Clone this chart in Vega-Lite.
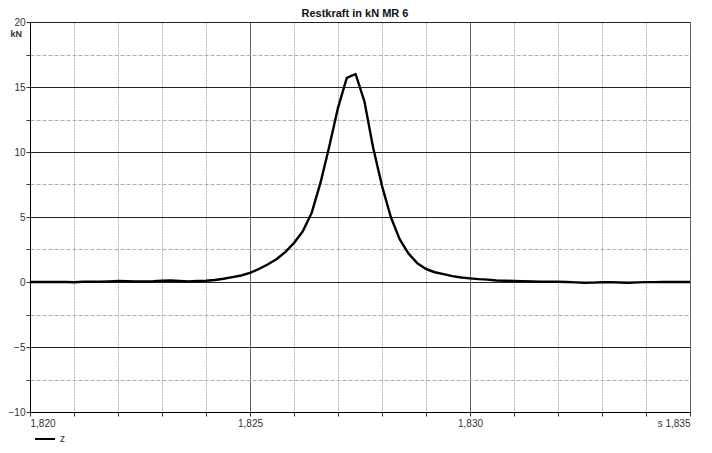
{
  "$schema": "https://vega.github.io/schema/vega-lite/v6.json",
  "width": 660,
  "height": 390,
  "autosize": {"type": "none"},
  "padding": {"left": 30, "top": 22, "right": 22, "bottom": 41},
  "background": "white",
  "title": {"text": "Restkraft in kN MR 6", "fontSize": 11, "fontWeight": "bold", "font": "Liberation Sans", "color": "#111", "offset": 4, "anchor": "middle", "dx": -5, "dy": 6},
  "config": {"view": {"stroke": null}},
  "data": {"values": [
    {"s": 1.8200, "z": 0.00, "series": "z"},
    {"s": 1.8202, "z": 0.00, "series": "z"},
    {"s": 1.8204, "z": 0.00, "series": "z"},
    {"s": 1.8206, "z": 0.00, "series": "z"},
    {"s": 1.8208, "z": 0.00, "series": "z"},
    {"s": 1.8210, "z": -0.02, "series": "z"},
    {"s": 1.8212, "z": 0.02, "series": "z"},
    {"s": 1.8214, "z": 0.03, "series": "z"},
    {"s": 1.8216, "z": 0.03, "series": "z"},
    {"s": 1.8218, "z": 0.05, "series": "z"},
    {"s": 1.8220, "z": 0.08, "series": "z"},
    {"s": 1.8222, "z": 0.07, "series": "z"},
    {"s": 1.8224, "z": 0.05, "series": "z"},
    {"s": 1.8226, "z": 0.04, "series": "z"},
    {"s": 1.8228, "z": 0.06, "series": "z"},
    {"s": 1.8230, "z": 0.10, "series": "z"},
    {"s": 1.8232, "z": 0.12, "series": "z"},
    {"s": 1.8234, "z": 0.08, "series": "z"},
    {"s": 1.8236, "z": 0.05, "series": "z"},
    {"s": 1.8238, "z": 0.08, "series": "z"},
    {"s": 1.8240, "z": 0.10, "series": "z"},
    {"s": 1.8242, "z": 0.15, "series": "z"},
    {"s": 1.8244, "z": 0.25, "series": "z"},
    {"s": 1.8246, "z": 0.38, "series": "z"},
    {"s": 1.8248, "z": 0.50, "series": "z"},
    {"s": 1.8250, "z": 0.70, "series": "z"},
    {"s": 1.8252, "z": 1.00, "series": "z"},
    {"s": 1.8254, "z": 1.35, "series": "z"},
    {"s": 1.8256, "z": 1.75, "series": "z"},
    {"s": 1.8258, "z": 2.30, "series": "z"},
    {"s": 1.8260, "z": 3.00, "series": "z"},
    {"s": 1.8262, "z": 3.90, "series": "z"},
    {"s": 1.8264, "z": 5.30, "series": "z"},
    {"s": 1.8266, "z": 7.60, "series": "z"},
    {"s": 1.8268, "z": 10.40, "series": "z"},
    {"s": 1.8270, "z": 13.40, "series": "z"},
    {"s": 1.8272, "z": 15.70, "series": "z"},
    {"s": 1.8274, "z": 16.00, "series": "z"},
    {"s": 1.8276, "z": 13.90, "series": "z"},
    {"s": 1.8278, "z": 10.30, "series": "z"},
    {"s": 1.8280, "z": 7.40, "series": "z"},
    {"s": 1.8282, "z": 5.00, "series": "z"},
    {"s": 1.8284, "z": 3.30, "series": "z"},
    {"s": 1.8286, "z": 2.20, "series": "z"},
    {"s": 1.8288, "z": 1.45, "series": "z"},
    {"s": 1.8290, "z": 1.00, "series": "z"},
    {"s": 1.8292, "z": 0.75, "series": "z"},
    {"s": 1.8294, "z": 0.60, "series": "z"},
    {"s": 1.8296, "z": 0.45, "series": "z"},
    {"s": 1.8298, "z": 0.35, "series": "z"},
    {"s": 1.8300, "z": 0.28, "series": "z"},
    {"s": 1.8302, "z": 0.22, "series": "z"},
    {"s": 1.8304, "z": 0.18, "series": "z"},
    {"s": 1.8306, "z": 0.12, "series": "z"},
    {"s": 1.8308, "z": 0.10, "series": "z"},
    {"s": 1.8310, "z": 0.08, "series": "z"},
    {"s": 1.8312, "z": 0.06, "series": "z"},
    {"s": 1.8314, "z": 0.05, "series": "z"},
    {"s": 1.8316, "z": 0.03, "series": "z"},
    {"s": 1.8318, "z": 0.02, "series": "z"},
    {"s": 1.8320, "z": 0.02, "series": "z"},
    {"s": 1.8322, "z": 0.00, "series": "z"},
    {"s": 1.8324, "z": -0.03, "series": "z"},
    {"s": 1.8326, "z": -0.06, "series": "z"},
    {"s": 1.8328, "z": -0.05, "series": "z"},
    {"s": 1.8330, "z": -0.02, "series": "z"},
    {"s": 1.8332, "z": -0.01, "series": "z"},
    {"s": 1.8334, "z": -0.04, "series": "z"},
    {"s": 1.8336, "z": -0.06, "series": "z"},
    {"s": 1.8338, "z": -0.03, "series": "z"},
    {"s": 1.8340, "z": -0.01, "series": "z"},
    {"s": 1.8342, "z": -0.01, "series": "z"},
    {"s": 1.8344, "z": 0.00, "series": "z"},
    {"s": 1.8346, "z": 0.00, "series": "z"},
    {"s": 1.8348, "z": 0.00, "series": "z"},
    {"s": 1.8350, "z": 0.00, "series": "z"}
  ]},
  "mark": {"type": "line", "strokeWidth": 2.4, "strokeJoin": "round", "clip": true},
  "encoding": {
    "x": {
      "field": "s", "type": "quantitative",
      "scale": {"domain": [1.820, 1.835], "nice": false, "zero": false},
      "axis": {
        "title": null,
        "values": [1.820, 1.821, 1.822, 1.823, 1.824, 1.825, 1.826, 1.827, 1.828, 1.829, 1.830, 1.831, 1.832, 1.833, 1.834, 1.835],
        "labelExpr": "abs(datum.value - 1.835) < 0.0001 ? 's 1,835' : (abs(datum.value*200 - round(datum.value*200)) < 0.001 ? replace(format(datum.value, '.3f'), '.', ',') : '')",
        "labelFlush": true,
        "labelFont": "Liberation Sans",
        "labelFontSize": 10,
        "labelColor": "#333",
        "labelPadding": 2,
        "domainColor": "#000",
        "domainWidth": 1,
        "tickColor": "#333",
        "tickSize": 4,
        "grid": true,
        "gridColor": {"condition": {"test": "abs(datum.value*200 - round(datum.value*200)) < 0.001", "value": "#666"}, "value": "#b4b4b4"},
        "gridDash": {"condition": {"test": "abs(datum.value*200 - round(datum.value*200)) < 0.001", "value": []}, "value": [2, 1]},
        "gridWidth": 1,
        "gridOpacity": 1
      }
    },
    "y": {
      "field": "z", "type": "quantitative",
      "scale": {"domain": [-10, 20], "nice": false, "zero": false},
      "axis": {
        "title": "kN",
        "titleAngle": 0,
        "titleX": -20,
        "titleY": 7,
        "titleAlign": "left",
        "titleBaseline": "top",
        "titleFont": "Liberation Sans",
        "titleFontSize": 9,
        "titleFontWeight": "bold",
        "titleColor": "#333",
        "values": [-10, -7.5, -5, -2.5, 0, 2.5, 5, 7.5, 10, 12.5, 15, 17.5, 20],
        "labelExpr": "datum.value % 5 == 0 ? format(datum.value, 'd') : ''",
        "labelFont": "Liberation Sans",
        "labelFontSize": 10,
        "labelColor": "#333",
        "labelPadding": 1,
        "domainColor": "#000",
        "domainWidth": 1,
        "tickColor": "#333",
        "tickSize": 4,
        "grid": true,
        "gridColor": {"condition": {"test": "datum.value % 5 == 0", "value": "#222"}, "value": "#b0b0b0"},
        "gridDash": {"condition": {"test": "datum.value % 5 == 0", "value": []}, "value": [4, 2]},
        "gridWidth": 1,
        "gridOpacity": 1
      }
    },
    "color": {
      "field": "series", "type": "nominal",
      "scale": {"range": ["#000"]},
      "legend": {
        "title": null,
        "orient": "none",
        "legendX": 4,
        "legendY": 406,
        "symbolType": "stroke",
        "symbolSize": 400,
        "symbolStrokeWidth": 2,
        "labelFont": "Liberation Sans",
        "labelFontSize": 10,
        "labelColor": "#333"
      }
    }
  }
}
